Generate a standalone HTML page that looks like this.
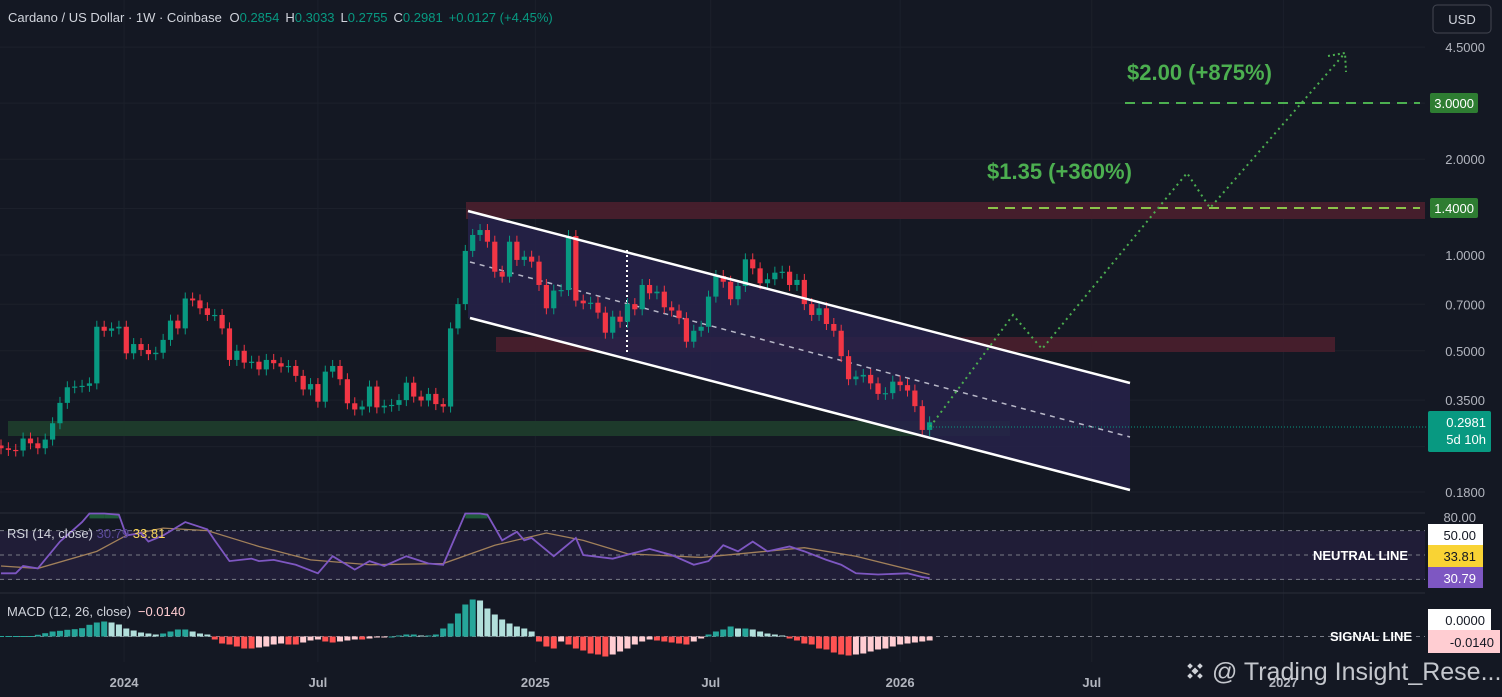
<!DOCTYPE html>
<html><head><meta charset="utf-8"><style>
html,body{margin:0;padding:0;background:#131722;overflow:hidden}
svg{display:block;font-family:"Liberation Sans",sans-serif}
</style></head><body>
<svg id="chart" width="1502" height="697" viewBox="0 0 1502 697" xmlns="http://www.w3.org/2000/svg">
<rect width="1502" height="697" fill="#141823"/>
<g id="grid"></g>
<rect x="466" y="202" width="959" height="17" fill="#4a1f2e" opacity="0.9"/>
<rect x="496" y="337" width="839" height="15" fill="#4a1f2e" opacity="0.9"/>
<rect x="8" y="421" width="1002" height="15" fill="#1d3a2b"/>
<polygon points="468,211 1130,383 1130,490 468,318" fill="#26224a" opacity="0.85"/>
<line x1="470" y1="262" x2="1130" y2="437" stroke="#b8b8c8" stroke-width="1.5" stroke-dasharray="5,5"/>
<line x1="627" y1="250" x2="627" y2="355" stroke="#ffffff" stroke-width="2" stroke-dasharray="2,3"/>
<g id="candles"></g>
<line x1="468" y1="211" x2="1130" y2="383" stroke="#ffffff" stroke-width="2.5"/>
<line x1="470" y1="318" x2="1130" y2="490" stroke="#ffffff" stroke-width="2.5"/>
<line x1="1125" y1="103" x2="1420" y2="103" stroke="#4caf50" stroke-width="2" stroke-dasharray="10,7"/>
<line x1="988" y1="208" x2="1420" y2="208" stroke="#8bc34a" stroke-width="2" stroke-dasharray="10,7"/>
<polyline points="930,427 1013,315 1042,349 1187,173 1210,208 1345,53" fill="none" stroke="#4caf50" stroke-width="2" stroke-dasharray="2,4"/>
<polyline points="1328,56 1345,53 1346,72" fill="none" stroke="#4caf50" stroke-width="2" stroke-dasharray="2,3"/>
<text x="1127" y="80" fill="#4caf50" font-size="22" font-weight="bold">$2.00 (+875%)</text>
<text x="987" y="179" fill="#4caf50" font-size="22" font-weight="bold">$1.35 (+360%)</text>

<text x="8" y="22" font-size="13" fill="#d1d4dc">Cardano / US Dollar · 1W · Coinbase <tspan dx="4">O</tspan><tspan fill="#089981">0.2854</tspan><tspan dx="6">H</tspan><tspan fill="#089981">0.3033</tspan><tspan dx="6">L</tspan><tspan fill="#089981">0.2755</tspan><tspan dx="6">C</tspan><tspan fill="#089981">0.2981</tspan><tspan dx="6" fill="#089981">+0.0127 (+4.45%)</tspan></text>
<rect x="1433" y="5" width="58" height="28" rx="4" fill="#141823" stroke="#434651"/>
<text x="1462" y="24" font-size="13" fill="#d1d4dc" text-anchor="middle">USD</text>

<g id="axis"></g>
<rect x="1430" y="93" width="48" height="20" rx="2" fill="#2e7d32"/>
<text x="1474" y="108" font-size="13" fill="#fff" text-anchor="end">3.0000</text>
<rect x="1430" y="198" width="48" height="20" rx="2" fill="#2e7d32"/>
<text x="1474" y="213" font-size="13" fill="#fff" text-anchor="end">1.4000</text>
<line x1="930" y1="427" x2="1428" y2="427" stroke="#089981" stroke-width="1" stroke-dasharray="1,2"/>
<rect x="1428" y="411" width="63" height="41" rx="2" fill="#089981"/>
<text x="1486" y="427" font-size="13" fill="#fff" text-anchor="end">0.2981</text>
<text x="1486" y="444" font-size="13" fill="#fff" text-anchor="end">5d 10h</text>

<line x1="0" y1="513" x2="1425" y2="513" stroke="#2a2e39"/>
<rect x="0" y="531" width="1425" height="49" fill="#231f3c" opacity="0.8"/>
<g id="rsi"></g>
<text x="7" y="538" font-size="13" fill="#d1d4dc">RSI (14, close) <tspan fill="#5b4a9a">30.79</tspan> <tspan fill="#f9d55a">33.81</tspan></text>
<text x="1313" y="560" font-size="13" font-weight="bold" fill="#fff">NEUTRAL LINE</text>
<text x="1476" y="522" font-size="13" fill="#b2b5be" text-anchor="end">80.00</text>
<rect x="1428" y="524" width="55" height="21" fill="#ffffff"/>
<text x="1476" y="540" font-size="13" fill="#131722" text-anchor="end">50.00</text>
<rect x="1428" y="545" width="55" height="22" fill="#f9d334"/>
<text x="1476" y="561" font-size="13" fill="#131722" text-anchor="end">33.81</text>
<rect x="1428" y="567" width="55" height="21" fill="#7e57c2"/>
<text x="1476" y="583" font-size="13" fill="#fff" text-anchor="end">30.79</text>

<line x1="0" y1="593" x2="1425" y2="593" stroke="#2a2e39"/>
<g id="macd"></g>
<text x="7" y="616" font-size="13" fill="#d1d4dc">MACD (12, 26, close) <tspan dx="3" fill="#ffcdd2">−0.0140</tspan></text>
<text x="1330" y="641" font-size="13" font-weight="bold" fill="#fff">SIGNAL LINE</text>
<rect x="1428" y="609" width="63" height="21" fill="#ffffff"/>
<text x="1485" y="625" font-size="13" fill="#131722" text-anchor="end">0.0000</text>
<rect x="1428" y="630" width="72" height="23" fill="#ffcdd2"/>
<text x="1494" y="647" font-size="13" fill="#131722" text-anchor="end">-0.0140</text>

<g id="timeaxis"></g>
<g>
<g transform="translate(1195,671) rotate(45)" fill="#cfd2d8"><rect x="-2.5" y="-2.5" width="5" height="5"/><rect x="-9" y="-2" width="4" height="4"/><rect x="5" y="-2" width="4" height="4"/><rect x="-2" y="-9" width="4" height="4"/><rect x="-2" y="5" width="4" height="4"/></g>
<text x="1212" y="680" font-size="25" fill="#d8dae0" opacity="0.9">@ Trading Insight_Rese...</text>
</g>
</svg>
<script>
const closes=[0.247,0.244,0.243,0.265,0.256,0.247,0.263,0.296,0.343,0.384,0.386,0.388,0.395,0.595,0.578,0.588,0.595,0.491,0.525,0.503,0.488,0.493,0.541,0.622,0.588,0.73,0.72,0.68,0.648,0.648,0.588,0.468,0.500,0.459,0.462,0.437,0.468,0.457,0.446,0.448,0.417,0.378,0.393,0.346,0.430,0.448,0.407,0.342,0.327,0.334,0.386,0.332,0.336,0.338,0.350,0.397,0.359,0.349,0.366,0.340,0.334,0.588,0.701,1.03,1.156,1.198,1.101,0.886,0.855,1.101,0.965,0.988,0.953,0.805,0.680,0.773,0.776,1.147,0.719,0.705,0.708,0.659,0.570,0.640,0.617,0.701,0.675,0.805,0.758,0.767,0.685,0.669,0.633,0.534,0.578,0.595,0.740,0.859,0.824,0.726,0.799,0.969,0.908,0.815,0.839,0.88,0.886,0.805,0.835,0.701,0.648,0.680,0.607,0.578,0.481,0.407,0.415,0.420,0.395,0.366,0.368,0.400,0.390,0.375,0.335,0.282,0.298];
const firstOpen=0.252;
const rsiIdx=[0,2,3,5,8,11,12,14,16,17,19,20,22,25,28,29,31,34,35,37,40,43,45,48,50,52,55,58,60,62,63,65,66,68,70,71,72,75,76,78,79,83,88,91,94,96,98,100,102,104,107,109,112,114,116,119,123,125,126];
const rsiVal=[35,35,41,39,61,77,84,84,83,66,68,61,66,77,71,62,45,47,45,46,42,35,49,38,45,41,49,43,42,70,84,84,83,62,69,62,64,49,54,64,50,47,55,50,42,45,58,53,61,53,57,53,46,42,35,34,35,32,31];
const maIdx=[0,5,13,17,22,28,35,42,50,60,67,74,79,85,95,109,116,126];
const maVal=[41,39,53,66,72,70,57,46,42,43,58,68,62,51,48,56,49,34];
const macdHist=[0.5,0.5,0.5,0.5,0.5,1.7,3.3,5,5.7,6.7,7.3,8.3,11.7,14,15,14,12,8,6,4,3,2,3,5,7,7,5,3,2,-3,-7,-8,-10,-12,-12,-11,-10,-8,-7,-8,-8,-6,-4,-3,-5,-6,-5,-4,-3,-3,-2,-1,-0.5,0,1,2,2,1,1,2,8,13,23,32,37,36,28,22,17,13,10,8,5,-5,-10,-12,-5,-8,-12,-14,-17,-18,-20,-18,-15,-12,-8,-5,-3,-4,-5,-6,-7,-8,-5,-2,2,5,7,10,8,8,7,5,3,2,1,-2,-4,-7,-8,-12,-13,-16,-18,-19,-18,-17,-15,-13,-12,-10,-8,-7,-6,-5,-4];
const priceTicks=[4.5,2.0,1.0,0.7,0.5,0.35,0.18];
const gridPrices=[4.5,3.0,2.0,1.4,1.0,0.7,0.5,0.35,0.25,0.18];
const timeLabels=["2024","Jul","2025","Jul","2026","Jul","2027"];
const timeIdx=[16.7,43,72.5,96.3,122,148,174];

const NS="http://www.w3.org/2000/svg";
function mk(parent,tag,attrs){const e=document.createElementNS(NS,tag);for(const k in attrs)e.setAttribute(k,attrs[k]);parent.appendChild(e);return e;}
const xAt=i=>1+i*7.37;
const yP=p=>255-138.2*Math.log(p);
const yR=v=>555-(v-50)*1.22;
const yM=h=>636.5-h;

const grid=document.getElementById('grid');
gridPrices.forEach(p=>{const l=mk(grid,'line',{x1:0,x2:1425,y1:yP(p),y2:yP(p),stroke:'#1c202b','stroke-width':1});

});
timeIdx.forEach(i=>{const l=mk(grid,'line',{x1:xAt(i),x2:xAt(i),y1:0,y2:662,stroke:'#1c202b','stroke-width':1});

});

const axis=document.getElementById('axis');
priceTicks.forEach(p=>{const t=mk(axis,'text',{x:1485,y:yP(p)+5,'font-size':13,fill:'#b2b5be','text-anchor':'end'});t.textContent=p.toFixed(4);

});

const cg=document.getElementById('candles');
closes.forEach((c,i)=>{const o=i===0?firstOpen:closes[i-1];const up=c>=o;const col=up?'#089981':'#f23645';
const x=xAt(i);const yt=yP(Math.max(o,c)),yb=yP(Math.min(o,c));
const w=mk(cg,'line',{x1:x,x2:x,y1:yt-6,y2:yb+6,stroke:col,'stroke-width':1});


const b=mk(cg,'rect',{x:x-2.6,y:yt,width:5.2,height:Math.max(1.2,yb-yt),fill:col});

});

const rg=document.getElementById('rsi');
[70,50,30].forEach(v=>{const l=mk(rg,'line',{x1:0,x2:1425,y1:yR(v),y2:yR(v),stroke:'#787b86','stroke-width':1,'stroke-dasharray':'4,4'});

});
// overbought fills
for(let k=1;k<rsiIdx.length;k++){if(rsiVal[k]>=80&&rsiVal[k-1]>=80){const f=mk(rg,'rect',{x:xAt(rsiIdx[k-1]),y:yR(84),width:xAt(rsiIdx[k])-xAt(rsiIdx[k-1]),height:yR(80)-yR(84),fill:'#1f5a3a'});

}}
const maLine=mk(rg,'polyline',{points:maIdx.map((i,k)=>xAt(i)+','+yR(maVal[k])).join(' '),fill:'none',stroke:'#a1805a','stroke-width':1.3});


const rLine=mk(rg,'polyline',{points:rsiIdx.map((i,k)=>xAt(i)+','+yR(rsiVal[k])).join(' '),fill:'none',stroke:'#7e57c2','stroke-width':1.8});



const mg=document.getElementById('macd');
const zl=mk(mg,'line',{x1:0,x2:1425,y1:yM(0),y2:yM(0),stroke:'#787b86','stroke-width':1,'stroke-dasharray':'4,4'});


macdHist.forEach((h,i)=>{const prev=i?macdHist[i-1]:0;let col;
if(h>=0)col=h>=prev?'#26a69a':'#b2dfdb';else col=h<=prev?'#ff5252':'#ffcdd2';
const y0=yM(0),y1=yM(h);
const r=mk(mg,'rect',{x:xAt(i)-3,y:Math.min(y0,y1),width:6,height:Math.max(1,Math.abs(y1-y0)),fill:col});

});

const ta=document.getElementById('timeaxis');
timeLabels.forEach((s,k)=>{const t=mk(ta,'text',{x:xAt(timeIdx[k]),y:687,'font-size':13,'font-weight':'bold',fill:'#b2b5be','text-anchor':'middle'});t.textContent=s;

});
</script>
</body></html>
